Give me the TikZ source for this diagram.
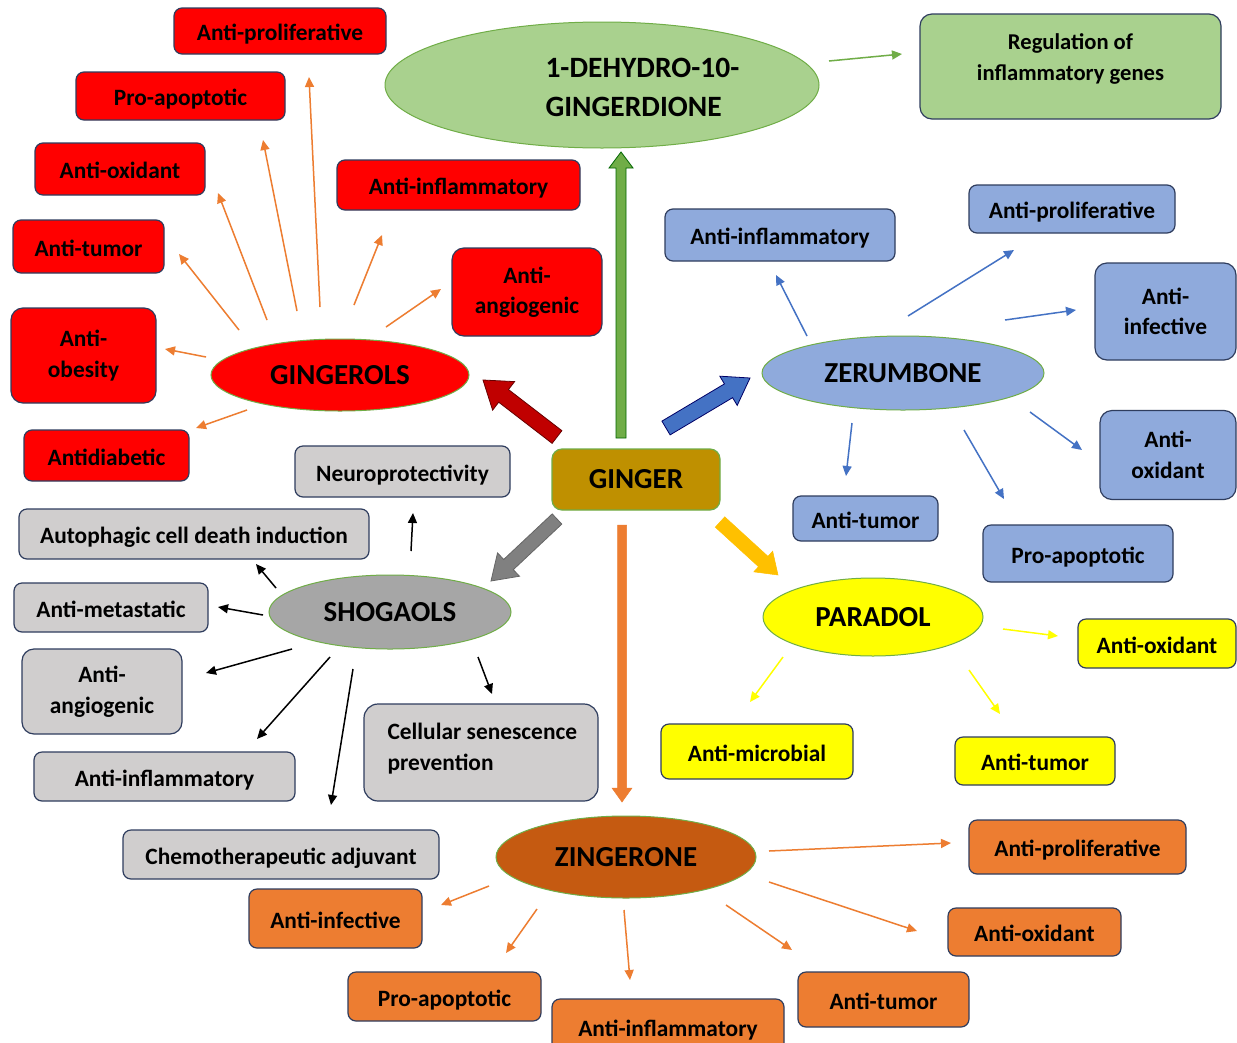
\documentclass[tikz,border=0pt]{standalone}
\usepackage{fontspec}
\setmainfont{Carlito}
\usetikzlibrary{shapes.geometric,arrows.meta,calc}
\definecolor{navy}{HTML}{2F3D5E}
\definecolor{gbord}{HTML}{70AD47}
\definecolor{lgreen}{HTML}{A9D18E}
\definecolor{cblue}{HTML}{8FAADC}
\definecolor{dblue}{HTML}{4472C4}
\definecolor{cgray}{HTML}{D0CECE}
\definecolor{sgray}{HTML}{A6A6A6}
\definecolor{corng}{HTML}{ED7D31}
\definecolor{zorng}{HTML}{C55A11}
\definecolor{ggold}{HTML}{BF9000}
\definecolor{cyell}{HTML}{FFFF00}
\definecolor{ayell}{HTML}{FFC000}
\definecolor{dred}{HTML}{C00000}
\newcommand\blockarrow[6]{%
  \coordinate (bA) at #2; \coordinate (bB) at #3;
  \coordinate (bN) at ($(bB)!#6!(bA)$);
  \draw[#1] ($(bA)!#4!90:(bB)$) -- ($(bN)!#4!90:(bB)$) -- ($(bN)!#5!90:(bB)$) -- (bB)
    -- ($(bN)!#5!-90:(bB)$) -- ($(bN)!#4!-90:(bB)$) -- ($(bA)!#4!-90:(bB)$) -- cycle;}
\tikzset{
  lbl/.style={font=\fontsize{23.4}{30.5}\selectfont\bfseries, text=black},
  big/.style={font=\fontsize{29}{39}\selectfont\bfseries, text=black},
  mbox/.style={lbl, draw=navy, line width=1.2pt, rounded corners=8pt, inner sep=0pt, align=center},
  box/.style={mbox, text height=19pt, text depth=0pt},
  rbox/.style={box, fill=red},
  bbox/.style={box, fill=cblue},
  ybox/.style={box, fill=cyell},
  gbox/.style={box, fill=cgray},
  obox/.style={box, fill=corng},
  ell/.style={ellipse, big, draw=gbord, line width=1pt, inner sep=0pt, align=center},
  arr/.style={line width=1.5pt, -{Triangle[length=10pt,width=9pt]}},
  oarr/.style={arr, draw=corng, fill=corng},
  barr/.style={arr, draw=dblue, fill=dblue},
  yarr/.style={arr, draw=cyell, fill=cyell},
  karr/.style={arr, draw=black, fill=black},
  garr/.style={arr, draw=gbord, fill=gbord},
}
\begin{document}
\begin{tikzpicture}[x=1pt,y=-1pt]
\clip (0,0) rectangle (1237,1042);
\fill[white] (0,0) rectangle (1237,1042);

% ---- top: 1-dehydro-10-gingerdione
\node[ell, fill=lgreen, minimum width=434, minimum height=126] (deh) at (602,85) {};
\node[big, align=left, anchor=west, font=\fontsize{29.5}{39}\selectfont\bfseries] (dehtxt) at (542,87.5) {1-DEHYDRO-10-\\GINGERDIONE};
\node[mbox, fill=lgreen, minimum width=301, minimum height=105, rounded corners=12pt] (reg) at (1070.5,66.5) {};
\node[lbl, align=center, font=\fontsize{22.6}{31}\selectfont\bfseries] (regtxt) at (1070.5,58.5) {Regulation of\\inflammatory genes};
\draw[garr] (829,61) -- (902,54);

% ---- GINGER
\node[mbox, fill=ggold, draw=gbord, big, minimum width=168, minimum height=61, rounded corners=10pt] (ginger) at (636,479.5) {GINGER};

% ---- GINGEROLS
\node[ell, fill=red, minimum width=258, minimum height=72] (gin) at (340,375) {GINGEROLS};
\node[rbox, minimum width=212, minimum height=46] (rp) at (280,31) {Anti-proliferative};
\node[rbox, minimum width=209, minimum height=48] (ra) at (180.5,96) {Pro-apoptotic};
\node[rbox, minimum width=170, minimum height=52] (ro) at (120,169) {Anti-oxidant};
\node[rbox, minimum width=243, minimum height=50] (ri) at (458.5,185) {Anti-inflammatory};
\node[rbox, minimum width=151, minimum height=53] (rt) at (88.5,246.5) {Anti-tumor};
\node[mbox, fill=red, minimum width=150, minimum height=88, rounded corners=12pt] (rg) at (527,292) {Anti-\\angiogenic};
\node[mbox, fill=red, minimum width=145, minimum height=95, rounded corners=12pt] (rb) at (83.5,355.5) {Anti-\\obesity};
\node[rbox, minimum width=165, minimum height=51] (rd) at (106.5,455.5) {Antidiabetic};
\draw[oarr] (320,307) -- (309,77);
\draw[oarr] (297,311) -- (263,140);
\draw[oarr] (267,320) -- (218,193);
\draw[oarr] (239,330) -- (179,254);
\draw[oarr] (206,357) -- (165,349);
\draw[oarr] (247,410) -- (196,428);
\draw[oarr] (354,305) -- (382,235);
\draw[oarr] (386,327) -- (441,289);

% ---- ZERUMBONE
\node[ell, fill=cblue, minimum width=282, minimum height=74] (zer) at (903,373) {ZERUMBONE};
\node[bbox, minimum width=230, minimum height=52] (bi) at (780,235) {Anti-inflammatory};
\node[bbox, minimum width=206, minimum height=48] (bp) at (1072,209) {Anti-proliferative};
\node[mbox, fill=cblue, minimum width=141, minimum height=97, rounded corners=12pt] (bf) at (1165.5,311.5) {Anti-\\infective};
\node[mbox, fill=cblue, minimum width=136, minimum height=89, rounded corners=12pt] (bo) at (1168,455) {Anti-\\oxidant};
\node[bbox, minimum width=145, minimum height=45] (bt) at (865.5,518.5) {Anti-tumor};
\node[bbox, minimum width=190, minimum height=57] (ba) at (1078,553.5) {Pro-apoptotic};
\draw[barr] (807,336) -- (776,275);
\draw[barr] (908,316) -- (1014,250);
\draw[barr] (1005,320) -- (1076,310);
\draw[barr] (1030,412) -- (1082,450);
\draw[barr] (852,423) -- (846,476);
\draw[barr] (964,430) -- (1004,499);

% ---- PARADOL
\node[ell, fill=cyell, minimum width=220, minimum height=78] (par) at (873,617) {PARADOL};
\node[ybox, minimum width=158, minimum height=49] (yo) at (1157,643.5) {Anti-oxidant};
\node[ybox, minimum width=192, minimum height=55] (ym) at (757,751.5) {Anti-microbial};
\node[ybox, minimum width=160, minimum height=48] (yt) at (1035,761) {Anti-tumor};
\draw[yarr] (1003,629) -- (1058,636);
\draw[yarr] (783,657) -- (750,702);
\draw[yarr] (969,670) -- (1000,714);

% ---- SHOGAOLS
\node[ell, fill=sgray, minimum width=242, minimum height=74] (sho) at (390,612) {SHOGAOLS};
\node[gbox, minimum width=215, minimum height=51] (sn) at (402.5,471.5) {Neuroprotectivity};
\node[gbox, minimum width=350, minimum height=50] (sa) at (194,534) {Autophagic cell death induction};
\node[gbox, minimum width=194, minimum height=49] (sm) at (111,607.5) {Anti-metastatic};
\node[mbox, fill=cgray, minimum width=160, minimum height=85, rounded corners=12pt] (sg) at (102,691.5) {Anti-\\angiogenic};
\node[gbox, minimum width=261, minimum height=49] (si) at (164.5,776.5) {Anti-inflammatory};
\node[mbox, fill=cgray, minimum width=234, minimum height=97, rounded corners=14pt] (sc) at (481,752.5) {};
\node[lbl, align=left, anchor=west] (sctxt) at (384,748.5) {Cellular senescence\\prevention};
\node[gbox, minimum width=316, minimum height=49] (sch) at (281,854.5) {Chemotherapeutic adjuvant};
\draw[karr] (411,551) -- (413,513);
\draw[karr] (276,588) -- (256,564);
\draw[karr] (263,615) -- (218,607);
\draw[karr] (292,649) -- (206,673);
\draw[karr] (330,657) -- (257,739);
\draw[karr] (353,669) -- (331,805);
\draw[karr] (478,657) -- (492,694);

% ---- ZINGERONE
\node[ell, fill=zorng, minimum width=260, minimum height=82] (zin) at (626,857) {ZINGERONE};
\node[obox, minimum width=217, minimum height=54] (op) at (1077.5,847) {Anti-proliferative};
\node[obox, minimum width=173, minimum height=48] (oo) at (1034.5,932) {Anti-oxidant};
\node[obox, minimum width=171, minimum height=55] (ot) at (883.5,999.5) {Anti-tumor};
\node[obox, minimum width=232, minimum height=56] (oi) at (668,1027) {Anti-inflammatory};
\node[obox, minimum width=193, minimum height=49] (oa) at (444.5,996.5) {Pro-apoptotic};
\node[obox, minimum width=173, minimum height=59] (of) at (335.5,918.5) {Anti-infective};
\draw[oarr] (769,851) -- (951,843);
\draw[oarr] (769,882) -- (917,931);
\draw[oarr] (726,905) -- (792,950);
\draw[oarr] (624,910) -- (630,980);
\draw[oarr] (537,909) -- (506,953);
\draw[oarr] (489,886) -- (441,905);

% ---- block arrows from GINGER
\blockarrow{fill=gbord, draw=green!40!black, line width=0.8pt}{(621,438)}{(621,152)}{5pt}{12pt}{16pt}
\blockarrow{fill=dred, draw=red!40!black, line width=0.8pt}{(557,437)}{(483,380)}{8pt}{18pt}{26pt}
\blockarrow{fill=dblue, draw=blue!40!black, line width=0.8pt}{(666,428)}{(750,378)}{8pt}{17pt}{25pt}
\blockarrow{fill=gray, draw=black!60, line width=0.8pt}{(557,519)}{(491,581)}{7pt}{16pt}{24pt}
\blockarrow{fill=ayell, draw=ayell, line width=0.5pt}{(720,522)}{(778,575)}{7pt}{14pt}{20pt}
\blockarrow{fill=corng, draw=corng, line width=0.5pt}{(622,525)}{(622,802)}{4.5pt}{10pt}{14pt}
\end{tikzpicture}
\end{document}
